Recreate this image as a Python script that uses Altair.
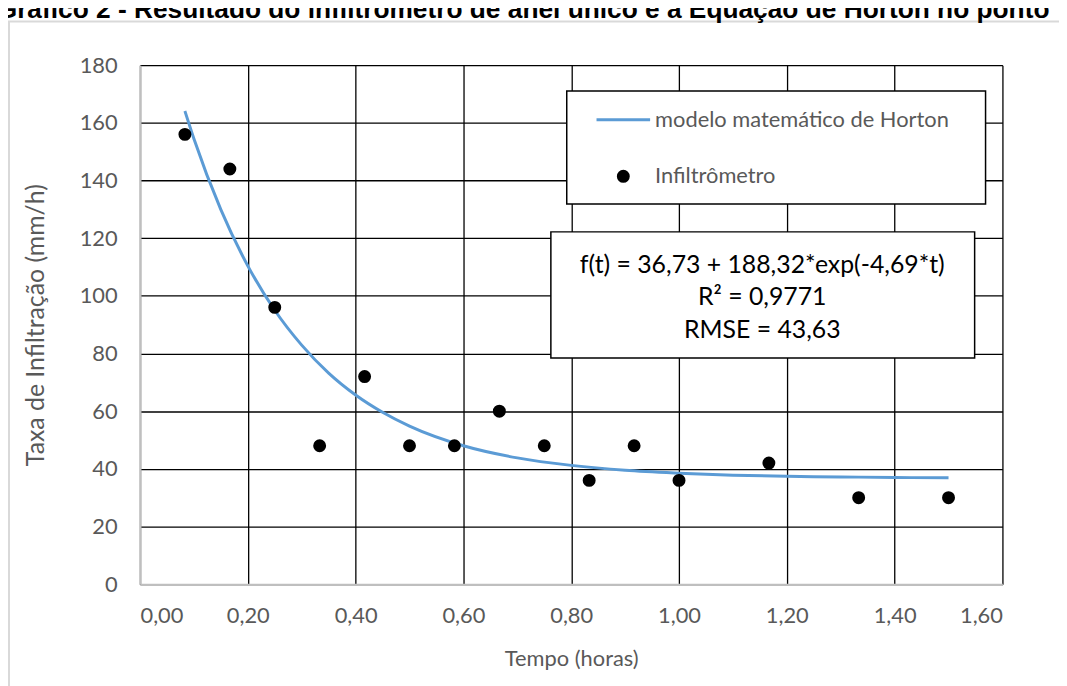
import altair as alt
import pandas as pd

# Measured points (infiltrometer)
tempo = [0.0833, 0.1667, 0.25, 0.3333, 0.4167, 0.5, 0.5833, 0.6667, 0.75, 0.8333, 0.9167, 1.0, 1.1667, 1.3333, 1.5]
taxa = [156, 144, 96, 48, 72, 48, 48, 60, 48, 36, 48, 36, 42, 30, 30]

# Horton model curve
curva_t = [0.0833, 0.10, 0.15, 0.20, 0.25, 0.30, 0.35, 0.40, 0.45, 0.50, 0.60, 0.70, 0.80, 0.90, 1.00, 1.10, 1.20, 1.30, 1.40, 1.50]
curva_f = [164.1, 154.5, 129.9, 110.4, 95.0, 82.9, 73.2, 65.6, 59.6, 54.8, 48.0, 43.8, 41.2, 39.5, 38.5, 37.8, 37.4, 37.2, 37.0, 36.9]

x_ticks = [0, 0.2, 0.4, 0.6, 0.8, 1.0, 1.2, 1.4, 1.6]
y_ticks = [0, 20, 40, 60, 80, 100, 120, 140, 160, 180]

titulo = "Gráfico 2 - Resultado do infiltrômetro de anel único e a Equação de Horton no ponto"
legenda = ["modelo matemático de Horton", "Infiltrômetro"]
anotacao = ["f(t) = 36,73 + 188,32*exp(-4,69*t)", "R² = 0,9771", "RMSE = 43,63"]

pts = pd.DataFrame({"t": tempo, "f": taxa})
cur = pd.DataFrame({"t": curva_t, "f": curva_f})

FONT = "Lato"
GRAY = "#595959"

xscale = alt.Scale(domain=[0, 1.6], nice=False)
yscale = alt.Scale(domain=[0, 180], nice=False)

xaxis = alt.Axis(values=x_ticks, title="Tempo (horas)",
                 labelExpr="replace(format(datum.value, '.2f'), '.', ',')",
                 labelPadding=22, titlePadding=22, titleFontSize=22)
yaxis = alt.Axis(values=y_ticks, title="Taxa de Infiltração (mm/h)",
                 labelPadding=23, titlePadding=31, titleFontSize=25)

line = alt.Chart(cur).mark_line(color="#5b9bd5", strokeWidth=3, interpolate="monotone").encode(
    x=alt.X("t:Q", scale=xscale, axis=xaxis),
    y=alt.Y("f:Q", scale=yscale, axis=yaxis),
)
points = alt.Chart(pts).mark_point(filled=True, color="black", size=170, opacity=1).encode(
    x=alt.X("t:Q", scale=xscale),
    y=alt.Y("f:Q", scale=yscale),
)

one = pd.DataFrame({"k": [0]})
base = alt.Chart(one)

frame = base.mark_rect(fill="white", fillOpacity=0, stroke="#d9d9d9", strokeWidth=2).encode(
    x=alt.value(-132), x2=alt.value(1100), y=alt.value(-44), y2=alt.value(700))

title = base.mark_text(text=titulo, font="Liberation Sans", fontWeight="bold", fontSize=26.5,
                       align="center", baseline="alphabetic", color="black").encode(
    x=alt.value(386), y=alt.value(-48))

leg_box = base.mark_rect(fill="white", stroke="black", strokeWidth=1.5).encode(
    x=alt.value(430), x2=alt.value(852), y=alt.value(26), y2=alt.value(140))
leg_line = base.mark_rule(color="#5b9bd5", strokeWidth=3).encode(
    x=alt.value(460), x2=alt.value(514), y=alt.value(55))
leg_t1 = base.mark_text(text=legenda[0], font=FONT, fontSize=22, color=GRAY, align="left",
                        baseline="middle").encode(x=alt.value(519), y=alt.value(55))
leg_dot = base.mark_point(filled=True, color="black", size=170, opacity=1).encode(
    x=alt.value(487), y=alt.value(112))
leg_t2 = base.mark_text(text=legenda[1], font=FONT, fontSize=22, color=GRAY, align="left",
                        baseline="middle").encode(x=alt.value(519), y=alt.value(112))

ann_box = base.mark_rect(fill="white", stroke="black", strokeWidth=1.5).encode(
    x=alt.value(414), x2=alt.value(841), y=alt.value(168), y2=alt.value(295))
ann_df = pd.DataFrame({"txt": anotacao, "yy": [201, 234, 267]})
ann_txt = alt.Chart(ann_df).mark_text(font=FONT, fontSize=25, color="black", align="center",
                                      baseline="middle").encode(
    text="txt:N", x=alt.value(627), y=alt.Y("yy:Q", scale=None, axis=None))

chart = alt.layer(frame, title, line, points, leg_box, leg_line, leg_t1, leg_dot, leg_t2,
                  ann_box, ann_txt).properties(
    width=869, height=523,
    autosize=alt.AutoSizeParams(type="none"),
    padding={"left": 133, "top": 55, "right": 57, "bottom": 100},
).configure_view(stroke=None).configure_axis(
    grid=True, gridColor="black", gridWidth=1.3, gridOpacity=1,
    domainColor="#bfbfbf", domainWidth=2, ticks=False,
    labelFont=FONT, labelFontSize=22, labelColor=GRAY,
    titleFont=FONT, titleColor=GRAY, titleFontWeight="normal",
)

chart.save("out.html", embed_options={"renderer": "svg", "actions": False})
